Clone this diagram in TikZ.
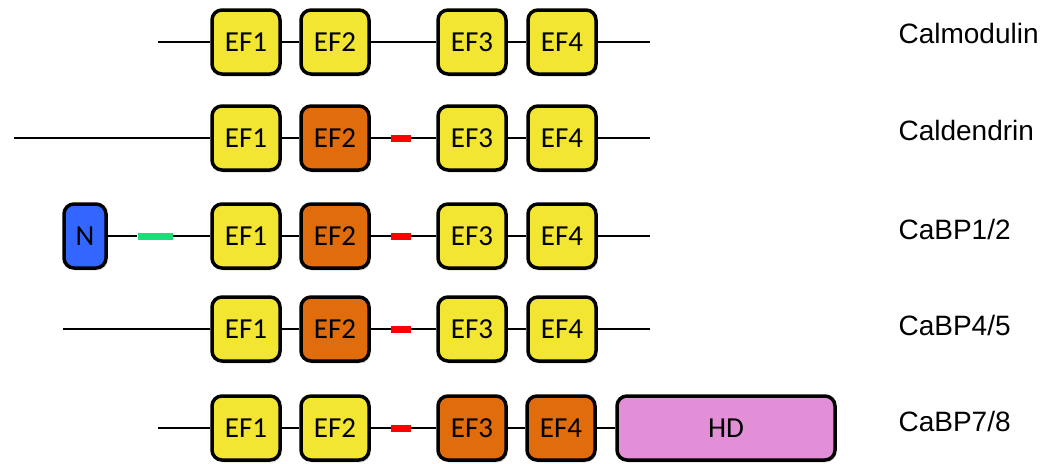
\documentclass[tikz,border=0pt]{standalone}
\usepackage{fontspec}
\setmainfont{Liberation Sans}
\newfontfamily\boxfont{Carlito}
\usetikzlibrary{shadows}

\definecolor{efyellow}{RGB}{242,230,50}
\definecolor{eforange}{RGB}{224,108,12}
\definecolor{nblue}{RGB}{51,102,255}
\definecolor{hdpink}{RGB}{226,143,216}
\definecolor{lkgreen}{RGB}{30,220,120}
\definecolor{lkred}{RGB}{255,0,0}

\tikzset{
  dom/.style={draw=black, line width=3.5pt, rounded corners=10pt,
    minimum width=68pt, minimum height=64pt, inner sep=0pt,
    font=\boxfont\fontsize{29}{30}\selectfont,
    drop shadow={opacity=0.25, shadow xshift=1.5pt, shadow yshift=-2.5pt}},
  efy/.style={dom, fill=efyellow},
  efo/.style={dom, fill=eforange},
  link/.style={draw=none, inner sep=0pt, minimum width=20pt, minimum height=7pt},
  chain/.style={line width=2.8pt},
  protname/.style={anchor=base west, font=\fontsize{28}{30}\selectfont}
}

\begin{document}
\begin{tikzpicture}[x=1pt, y=-1pt]
\useasboundingbox (0,0) rectangle (1040,463);

% Calmodulin
\coordinate (s1) at (158,42);
\coordinate (e1) at (650,42);
\node[efy] (r1ef1) at (246,42) {EF1};
\node[efy] (r1ef2) at (335,42) {EF2};
\node[efy] (r1ef3) at (472,42) {EF3};
\node[efy] (r1ef4) at (562,42) {EF4};
\draw[chain] (s1) -- (r1ef1) -- (r1ef2) -- (r1ef3) -- (r1ef4) -- (e1);
\node[protname] (lab1) at (895,43) {Calmodulin};

% Caldendrin
\coordinate (s2) at (14,138);
\coordinate (e2) at (650,138);
\node[efy] (r2ef1) at (246,138) {EF1};
\node[efo] (r2ef2) at (335,138) {EF2};
\node[link, fill=lkred] (r2red) at (401,138) {};
\node[efy] (r2ef3) at (472,138) {EF3};
\node[efy] (r2ef4) at (562,138) {EF4};
\draw[chain] (s2) -- (r2ef1) -- (r2ef2) -- (r2red) -- (r2ef3) -- (r2ef4) -- (e2);
\node[protname] (lab2) at (895,140) {Caldendrin};

% CaBP1/2
\coordinate (e3) at (650,236);
\node[dom, fill=nblue, minimum width=42pt] (r3n) at (85,236) {N};
\node[link, fill=lkgreen, minimum width=35pt] (r3grn) at (155,236) {};
\node[efy] (r3ef1) at (246,236) {EF1};
\node[efo] (r3ef2) at (335,236) {EF2};
\node[link, fill=lkred] (r3red) at (401,236) {};
\node[efy] (r3ef3) at (472,236) {EF3};
\node[efy] (r3ef4) at (562,236) {EF4};
\draw[chain] (r3n) -- (r3grn) -- (r3ef1) -- (r3ef2) -- (r3red) -- (r3ef3) -- (r3ef4) -- (e3);
\node[protname] (lab3) at (895,239) {CaBP1/2};

% CaBP4/5
\coordinate (s4) at (63,329);
\coordinate (e4) at (650,329);
\node[efy] (r4ef1) at (246,329) {EF1};
\node[efo] (r4ef2) at (335,329) {EF2};
\node[link, fill=lkred] (r4red) at (401,329) {};
\node[efy] (r4ef3) at (472,329) {EF3};
\node[efy] (r4ef4) at (562,329) {EF4};
\draw[chain] (s4) -- (r4ef1) -- (r4ef2) -- (r4red) -- (r4ef3) -- (r4ef4) -- (e4);
\node[protname] (lab4) at (895,335) {CaBP4/5};

% CaBP7/8
\coordinate (s5) at (158,428);
\node[efy] (r5ef1) at (246,428) {EF1};
\node[efy] (r5ef2) at (335,428) {EF2};
\node[link, fill=lkred] (r5red) at (401,428) {};
\node[efo] (r5ef3) at (472,428) {EF3};
\node[efo] (r5ef4) at (561,428) {EF4};
\node[dom, fill=hdpink, minimum width=218pt] (r5hd) at (726,428) {HD};
\draw[chain] (s5) -- (r5ef1) -- (r5ef2) -- (r5red) -- (r5ef3) -- (r5ef4) -- (r5hd);
\node[protname] (lab5) at (895,431) {CaBP7/8};

\end{tikzpicture}
\end{document}
